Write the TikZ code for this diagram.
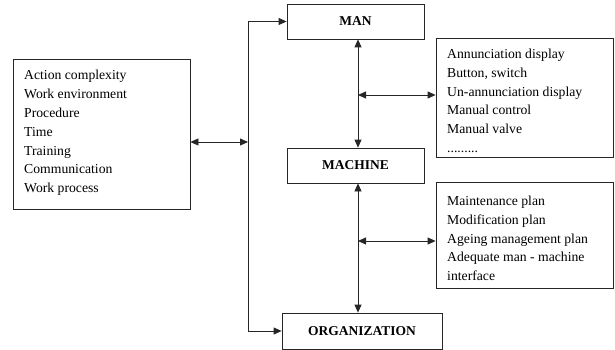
\documentclass[tikz,border=0pt]{standalone}
\usepackage{fontspec}
\setmainfont{Liberation Serif}
\usetikzlibrary{arrows.meta,calc}
\begin{document}
\begin{tikzpicture}[x=1pt,y=-1pt,
  box/.style={draw=black!85, line width=0.8pt, inner sep=0pt},
  lbl/.style={font=\fontsize{13.5}{16}\selectfont\bfseries},
  list/.style={align=left, inner sep=0pt, anchor=north west, font=\fontsize{13.7}{18.8}\selectfont},
  tip/.tip={Triangle[length=8pt,width=7pt]},
  dbl/.style={line width=0.8pt, draw=black!85, tip-tip},
  one/.style={line width=0.8pt, draw=black!85, -tip},
  wire/.style={line width=0.8pt, draw=black!85}]
\useasboundingbox (0,0) rectangle (615,350);
% boxes
\node[box, minimum width=177pt, minimum height=150pt] (L) at (101.5,134) {};
\node[list] (Lt) at (24,70.2) {Action complexity\\Work environment\\Procedure\\Time\\Training\\Communication\\Work process};
\node[box, lbl, minimum width=137pt, minimum height=35pt] (MAN) at (355.5,21.5) {MAN};
\node[box, lbl, minimum width=137pt, minimum height=35pt] (MACH) at (355.5,165.5) {MACHINE};
\node[box, lbl, minimum width=160pt, minimum height=36pt] (ORG) at (362,331) {ORGANIZATION};
\node[box, minimum width=177pt, minimum height=119pt] (R1) at (524.5,97.5) {};
\node[list] (R1t) at (447,48.7) {Annunciation display\\Button, switch\\Un-annunciation display\\Manual control\\Manual valve\\.........};
\node[box, minimum width=177pt, minimum height=106pt] (R2) at (524.5,235) {};
\node[list] (R2t) at (447,195.7) {Maintenance plan\\Modification plan\\Ageing management plan\\Adequate man - machine\\interface};
% spine
\coordinate (sX) at (248,0);
\coordinate (vX) at (358,0);
\coordinate (sTop) at (MAN.west -| sX);
\coordinate (sBot) at (ORG.west -| sX);
\coordinate (lA) at ($(L.east)+(0,8)$);
\coordinate (sMid) at (lA -| sX);
\draw[wire] (sTop) -- (sBot);
\draw[one] (sTop) -- (MAN.west);
\draw[one] (sBot) -- (ORG.west);
\draw[dbl] (lA) -- (sMid);
% man-machine-organization
\draw[dbl] (MAN.south -| vX) -- (MACH.north -| vX);
\draw[dbl] (MACH.south -| vX) -- (ORG.north -| vX);
\coordinate (j1) at (358,95);
\coordinate (j2) at (358,241);
\draw[dbl] (j1) -- (j1 -| R1.west);
\draw[dbl] (j2) -- (j2 -| R2.west);
\end{tikzpicture}
\end{document}
